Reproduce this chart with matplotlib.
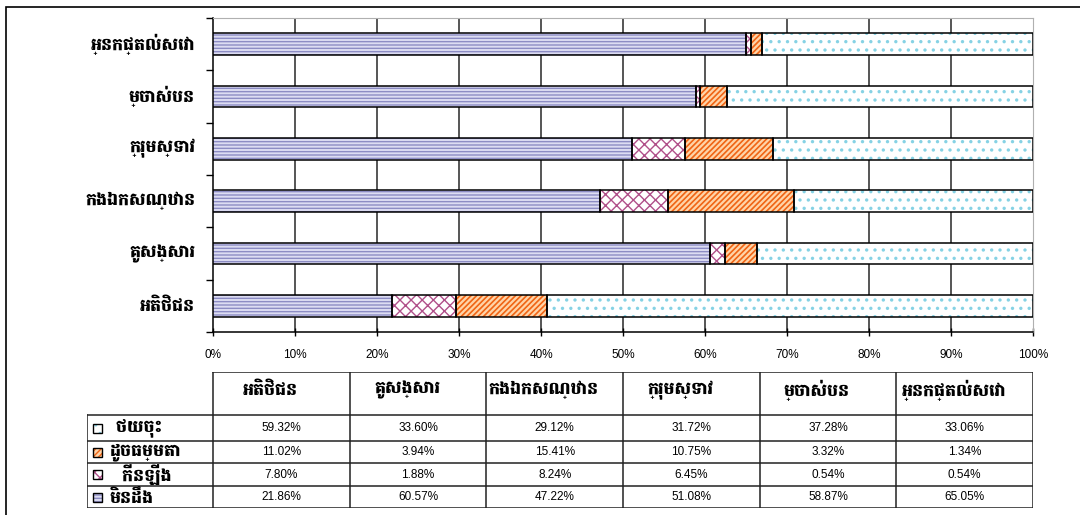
import matplotlib
matplotlib.use('Agg')
import matplotlib.pyplot as plt
from matplotlib.patches import Rectangle

KH = ['Battambang', 'DejaVu Sans']
NUM = ['Liberation Sans', 'DejaVu Sans']

# categories, bottom bar first (= table column order)
categories = ['អតិថិជន', 'គូសង្សារ', 'កងឯកសណ្ឋាន', 'ក្រុមស្ទាវ', 'ម្ចាស់បន', 'អ្នកផ្តល់សេវា']

# series in stacking order (left to right in the bars)
series_names = ['មិនដឹង', 'កើនឡើង', 'ដូចធម្មតា', 'ថយចុះ']
dont_know = [21.86, 60.57, 47.22, 51.08, 58.87, 65.05]
increased = [7.80, 1.88, 8.24, 6.45, 0.54, 0.54]
same      = [11.02, 3.94, 15.41, 10.75, 3.32, 1.34]
decreased = [59.32, 33.60, 29.12, 31.72, 37.28, 33.06]
series_vals = [dont_know, increased, same, decreased]

# table rows, top row first
table_rows = ['ថយចុះ', 'ដូចធម្មតា', 'កើនឡើង', 'មិនដឹង']
table_vals = [decreased, same, increased, dont_know]
row_label_pad = [' ', '', '  ', '']

xticks = [0, 10, 20, 30, 40, 50, 60, 70, 80, 90, 100]

# fill colour, hatch colour, hatch, hatch width
styles = {
    'មិនដឹង':   ('#dcdcf2', '#8c8cc4', '-----', 1.0),
    'កើនឡើង':  ('#ffffff', '#b0508a', 'xxx', 1.0),
    'ដូចធម្មតា': ('#ffd4a8', '#f06414', '//////', 1.2),
    'ថយចុះ':    ('#ffffff', '#86d2e4', '..', 1.2),
}

W, H = 1080, 515
fig = plt.figure(figsize=(W / 100, H / 100), dpi=100)

# outer frame
fig.add_artist(Rectangle((6 / W, -0.1), 1.2, 1 - 7 / H + 0.1, transform=fig.transFigure,
                         fill=False, edgecolor='black', linewidth=1.2))

L, R, T, B = 213, 1033, 18, 332
ax = fig.add_axes([L / W, 1 - B / H, (R - L) / W, (B - T) / H])

ypos = list(range(len(categories)))
left = [0] * len(categories)
for name, vals in zip(series_names, series_vals):
    fc, hc, hatch, hw = styles[name]
    with plt.rc_context({'hatch.linewidth': hw}):
        ax.barh(ypos, vals, left=left, height=0.41, color=fc, edgecolor=hc,
                hatch=hatch, linewidth=0, zorder=3)
    ax.barh(ypos, vals, left=left, height=0.41, fill=False,
            edgecolor='black', linewidth=1.1, zorder=4)
    left = [a + b for a, b in zip(left, vals)]

ax.set_xlim(0, 100)
ax.set_ylim(-0.5, len(categories) - 0.5)
ax.set_xticks(xticks)
ax.set_xticklabels(['%d%%' % v for v in xticks], fontsize=8.5, family=NUM)
ax.tick_params(axis='x', direction='inout', length=6, width=1, pad=9)
ax.set_yticks([i - 0.5 for i in range(len(categories) + 1)])
ax.set_yticklabels([])
ax.tick_params(axis='y', direction='out', length=5, width=1)
for i, c in enumerate(categories):
    ax.text(-2.2, i, c, ha='right', va='center', fontsize=12.5, family=KH,
            weight=900)

for v in xticks[1:-1]:
    ax.axvline(v, color='#383838', linewidth=1.2, zorder=1)
ax.spines['top'].set_color('#b0b0b0')
ax.spines['right'].set_color('#b0b0b0')
ax.spines['left'].set_linewidth(1.1)
ax.spines['bottom'].set_linewidth(1.1)

# data table
TL, TT, TB, HB = 87, 372, 508, 415
tax = fig.add_axes([TL / W, 1 - TB / H, (R - TL) / W, (TB - TT) / H])
tax.set_xlim(TL, R)
tax.set_ylim(TB, TT)
tax.axis('off')

ncol = len(categories)
cw = (R - L) / ncol
col_x = [L + i * cw for i in range(ncol + 1)]
row_y = [HB, 441, 463, 486, TB]
lc = '#222222'
tax.plot([L, R], [TT, TT], color=lc, lw=1.1)
for x in col_x:
    tax.plot([x, x], [TT, TB], color=lc, lw=1.1)
tax.plot([TL, TL], [HB, TB], color=lc, lw=1.1)
for y in row_y:
    tax.plot([TL, R], [y, y], color=lc, lw=1.1)

for i, c in enumerate(categories):
    tax.text(col_x[i] + cw / 2 - 11, 390, c, ha='center', va='center',
             fontsize=12.5, family=KH, weight=900)

for r, (name, vals) in enumerate(zip(table_rows, table_vals)):
    yc = (row_y[r] + row_y[r + 1]) / 2
    fc, hc, hatch, hw = styles[name]
    with plt.rc_context({'hatch.linewidth': min(hw, 1.0)}):
        tax.add_patch(Rectangle((93, yc - 4.5), 9, 9, facecolor=fc,
                                edgecolor=hc, hatch=hatch, linewidth=0))
    tax.add_patch(Rectangle((93, yc - 4.5), 9, 9, fill=False,
                            edgecolor='black', linewidth=1))
    tax.text(110, yc, row_label_pad[r] + name, ha='left', va='center',
             fontsize=12.5, family=KH, weight=900)
    for i, v in enumerate(vals):
        tax.text(col_x[i] + cw / 2, yc, '%.2f%%' % v, ha='center',
                 va='center', fontsize=8.5, family=NUM)

fig.savefig('out.png', dpi=100)
